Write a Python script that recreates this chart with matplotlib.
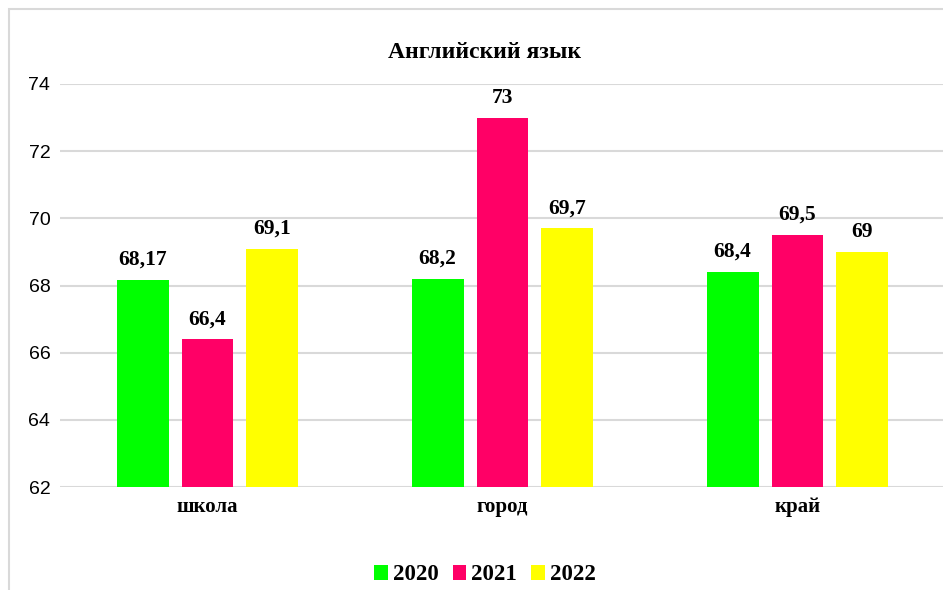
import numpy as np
import matplotlib.pyplot as plt
from matplotlib.patches import Rectangle

categories = ['школа', 'город', 'край']
years = ['2020', '2021', '2022']
vals_2020 = [68.17, 68.2, 68.4]
vals_2021 = [66.4, 73, 69.5]
vals_2022 = [69.1, 69.7, 69]
labels_2020 = ['68,17', '68,2', '68,4']
labels_2021 = ['66,4', '73', '69,5']
labels_2022 = ['69,1', '69,7', '69']
colors = ['#00ff00', '#ff0066', '#ffff00']

serif = ['Liberation Serif', 'DejaVu Serif']

fig = plt.figure(figsize=(9.43, 5.9), dpi=100)
W, H = 943, 590
ax = fig.add_axes([60 / W, 1 - 487 / H, 885 / W, 403 / H])

# рамка диаграммы
fig.patches.append(Rectangle((9 / W, -0.1), 1.1, 1 - 9 / H + 0.1, transform=fig.transFigure,
                             fill=False, edgecolor='#d9d9d9', linewidth=1.5))

x = np.arange(len(categories))
w = 0.176
step = 0.22
series = [(vals_2020, labels_2020), (vals_2021, labels_2021), (vals_2022, labels_2022)]
for i, (vals, labs) in enumerate(series):
    bars = ax.bar(x + (i - 1) * step, [v - 62 for v in vals], width=w, bottom=62,
                  color=colors[i], label=years[i], zorder=3)
    for b, lab in zip(bars, labs):
        ax.text(b.get_x() + b.get_width() / 2, b.get_y() + b.get_height() + 0.3, lab,
                ha='center', va='bottom', fontsize=15.5, fontweight='bold', family=serif)

ax.set_xlim(-0.5, 2.5)
ax.set_ylim(62, 74)
ax.set_yticks(range(62, 75, 2))
ax.yaxis.grid(True, color='#d9d9d9', linewidth=1.5, zorder=0)
ax.set_axisbelow(True)
for s in ax.spines.values():
    s.set_visible(False)
ax.tick_params(axis='y', length=0, pad=7, labelsize=14)
ax.tick_params(axis='x', length=0, pad=7)
ax.set_xticks(x)
ax.set_xticklabels(categories, fontsize=15, fontweight='bold', family=serif)
for t in ax.get_yticklabels():
    t.set_family(['Liberation Sans', 'DejaVu Sans'])

fig.text(485 / W, 1 - 52 / H, 'Английский язык', ha='center', va='center',
         fontsize=17, fontweight='bold', family=serif)

leg = fig.legend(loc='center', bbox_to_anchor=(485 / W, 1 - 575 / H), ncol=3, frameon=False,
                 prop={'family': serif, 'weight': 'bold', 'size': 16.5},
                 handlelength=0.6, handleheight=0.6, handletextpad=0.22, columnspacing=0.6)

fig.savefig('out.png', dpi=100)
